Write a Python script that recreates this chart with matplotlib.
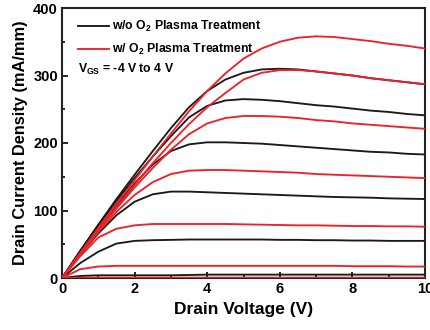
import matplotlib
matplotlib.use("Agg")
import matplotlib.pyplot as plt
from matplotlib.ticker import MultipleLocator

plt.rcParams['font.family'] = ['Liberation Sans', 'DejaVu Sans']
plt.rcParams['font.weight'] = 'bold'
plt.rcParams['mathtext.fontset'] = 'custom'
plt.rcParams['mathtext.rm'] = 'Liberation Sans:bold'
plt.rcParams['mathtext.it'] = 'Liberation Sans:bold'
plt.rcParams['mathtext.bf'] = 'Liberation Sans:bold'

# Drain voltage (V)
vd = [0, 0.5, 1, 1.5, 2, 2.5, 3, 3.5, 4, 4.5, 5, 5.5, 6, 6.5, 7, 7.5, 8, 8.5, 9, 9.5, 10]

# w/o O2 plasma treatment (mA/mm)
wo_1 = [0, 3, 4, 4, 4, 4, 4, 4.5, 5, 5, 5, 5, 5, 5, 5, 5, 5, 5, 5, 5, 5]
wo_2 = [0, 22, 39, 51, 55, 56, 56.5, 57, 57, 57, 57, 57, 56.5, 56.5, 56, 56, 55.5, 55.5, 55, 55, 55]
wo_3 = [0, 35, 66, 93, 113, 124, 128, 128, 127, 126, 125, 124, 123, 122, 121, 120, 119.5, 119, 118, 117.5, 117]
wo_4 = [0, 37, 73, 107, 140, 168, 188, 198, 201, 201, 200, 199, 197, 195, 193, 191, 189, 187, 186, 184, 183]
wo_5 = [0, 40, 78, 114, 148, 180, 210, 238, 255, 263, 265, 264, 262, 259, 256, 254, 251, 248, 246, 243, 241]
wo_6 = [0, 40, 79, 117, 153, 188, 222, 253, 277, 294, 304, 309, 310, 309, 306, 303, 300, 296, 293, 290, 287]

# w/ O2 plasma treatment (mA/mm)
w_0 = [0, 0.5, 0.5, 0.5, 0.5, 0.5, 0.5, 0.5, 0.5, 0.5, 0.5, 0.5, 0.5, 0.5, 0.5, 0.5, 0.5, 0.5, 0.5, 0.5, 0.5]
w_1 = [0, 13, 17, 18, 18, 18, 18, 18, 18, 18, 18, 18, 18, 18, 18, 18, 17.5, 17.5, 17.5, 17, 17]
w_2 = [0, 32, 60, 73, 78, 80, 80, 80, 80, 80, 79.5, 79, 78.5, 78, 78, 77.5, 77, 77, 76.5, 76.5, 76]
w_3 = [0, 35, 68, 98, 123, 142, 154, 159, 160, 160, 159, 158, 157, 156, 154, 153, 152, 151, 150, 149, 148]
w_4 = [0, 35, 70, 103, 134, 163, 190, 213, 229, 237, 240, 240, 239, 237, 234, 232, 229, 227, 225, 223, 221]
w_5 = [0, 36, 71, 105, 138, 170, 200, 228, 253, 274, 294, 304, 308, 308, 306, 303, 300, 296, 293, 290, 287]
w_6 = [0, 37, 74, 110, 145, 180, 214, 247, 277, 303, 325, 340, 350, 356, 358, 357, 354, 351, 347, 344, 340]

wo_curves = [wo_1, wo_2, wo_3, wo_4, wo_5, wo_6]
w_curves = [w_0, w_1, w_2, w_3, w_4, w_5, w_6]

label_wo = "w/o O$_2$ Plasma Treatment"
label_w = "w/ O$_2$ Plasma Treatment"
note = "V$_{GS}$ = -4 V to 4 V"

BLACK = "#1a1a1a"
RED = "#ec2228"

fig = plt.figure(figsize=(4.3, 3.3), dpi=100)
ax = fig.add_axes([62/430, 1-278/330, 363/430, 270/330])

for i, c in enumerate(wo_curves):
    ax.plot(vd, c, color=BLACK, lw=1.35, label=label_wo if i == 0 else None, zorder=2)
for i, c in enumerate(w_curves):
    ax.plot(vd, c, color=RED, lw=1.35, label=label_w if i == 0 else None, zorder=3)

ax.set_xlim(0, 10)
ax.set_ylim(0, 400)
ax.xaxis.set_major_locator(MultipleLocator(2))
ax.xaxis.set_minor_locator(MultipleLocator(1))
ax.yaxis.set_major_locator(MultipleLocator(100))
ax.yaxis.set_minor_locator(MultipleLocator(50))
ax.tick_params(which='both', direction='in', width=1.2, labelsize=10.5, pad=3)
ax.tick_params(which='major', length=4)
ax.tick_params(which='minor', length=2.5)
for lab in ax.get_xticklabels() + ax.get_yticklabels():
    lab.set_fontweight('bold')
for s in ax.spines.values():
    s.set_linewidth(1.5)
    s.set_color('#222222')

ax.set_xlabel("Drain Voltage (V)", fontsize=12.5, fontweight='bold', labelpad=4)
ax.set_ylabel("Drain Current Density (mA/mm)", fontsize=11.8, fontweight='bold', labelpad=4)

leg = ax.legend(loc='upper left', bbox_to_anchor=(0.044, 0.96), frameon=False,
                fontsize=8.8, handlelength=2.5, handletextpad=0.25, labelspacing=0.68,
                borderpad=0, borderaxespad=0)
for t in leg.get_texts():
    t.set_fontweight('bold')
ax.text(0.044, 0.772, note, transform=ax.transAxes, fontsize=8.8, fontweight='bold',
        va='center', ha='left')

fig.savefig("out.png", dpi=100)
